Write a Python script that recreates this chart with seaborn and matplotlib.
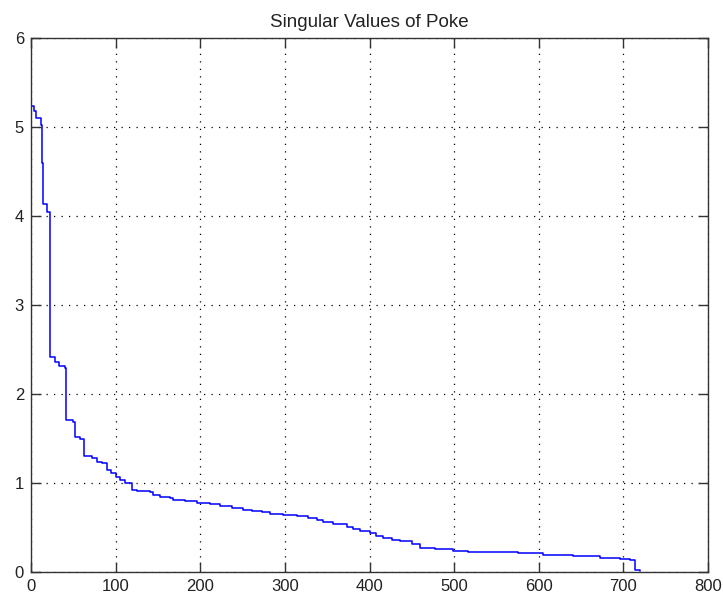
import matplotlib
matplotlib.use("Agg")
import matplotlib.pyplot as plt
import seaborn as sns
import pandas as pd

# Step breakpoints (index where each level starts) and singular values
index = [1, 3.5, 6, 11.5, 12.6, 14.5, 18.5, 23, 28, 33, 40, 41, 50, 52, 58, 63,
         72, 78, 83.5, 90, 95, 101, 105, 111, 119, 125, 140.6, 144.5, 152, 164,
         168, 182, 196, 211, 223, 237, 251, 261, 272.5, 282, 298, 314, 327.6,
         337.5, 345, 357, 373, 381, 389, 400, 408, 416, 426, 436, 450, 459.5,
         477, 499, 516.6, 540, 575.6, 605, 640.6, 672, 696, 707.6, 713.5, 720]
values = [5.24, 5.18, 5.10, 5.02, 4.59, 4.13, 4.04, 2.42, 2.36, 2.32, 2.29, 1.71,
          1.68, 1.52, 1.50, 1.30, 1.28, 1.24, 1.22, 1.145, 1.11, 1.07, 1.03, 1.00,
          0.92, 0.91, 0.90, 0.86, 0.84, 0.83, 0.81, 0.80, 0.78, 0.76, 0.74, 0.72,
          0.70, 0.68, 0.67, 0.65, 0.64, 0.63, 0.61, 0.58, 0.56, 0.54, 0.51, 0.48,
          0.46, 0.44, 0.41, 0.38, 0.36, 0.35, 0.31, 0.27, 0.26, 0.24, 0.23, 0.22,
          0.21, 0.19, 0.18, 0.16, 0.15, 0.13, 0.02, 0.01]
x_ticks = [0, 100, 200, 300, 400, 500, 600, 700, 800]
y_ticks = [0, 1, 2, 3, 4, 5, 6]
title = "Singular Values of Poke"

sns.set_style("white")
plt.rcParams["font.family"] = ["Liberation Sans", "DejaVu Sans"]

df = pd.DataFrame({"index": index, "value": values})

fig = plt.figure(figsize=(7.23, 6.01), dpi=100)
ax = fig.add_axes([31/723, 1 - 572/601, (708 - 31)/723, (572 - 38)/601])

sns.lineplot(data=df, x="index", y="value", ax=ax, color="#0000ff",
             linewidth=1.1, drawstyle="steps-post", estimator=None)

ax.set_xlim(0, 800)
ax.set_ylim(0, 6)
ax.set_xticks(x_ticks)
ax.set_yticks(y_ticks)
ax.set_xticklabels([str(t) for t in x_ticks])
ax.set_yticklabels([str(t) for t in y_ticks])
ax.set_xlabel("")
ax.set_ylabel("")
ax.set_title(title, fontsize=13.5, color="#222222", pad=8)

ax.grid(True, color="black", linestyle=(0, (1, 5)), linewidth=0.9)
ax.tick_params(axis="both", direction="in", length=7, width=1, colors="#333333",
               labelsize=12, labelcolor="#222222", top=True, right=True,
               bottom=True, left=True, pad=5)
for sp in ax.spines.values():
    sp.set_visible(True)
    sp.set_color("#333333")
    sp.set_linewidth(1.0)

fig.savefig("out.png", dpi=100, facecolor="white")
